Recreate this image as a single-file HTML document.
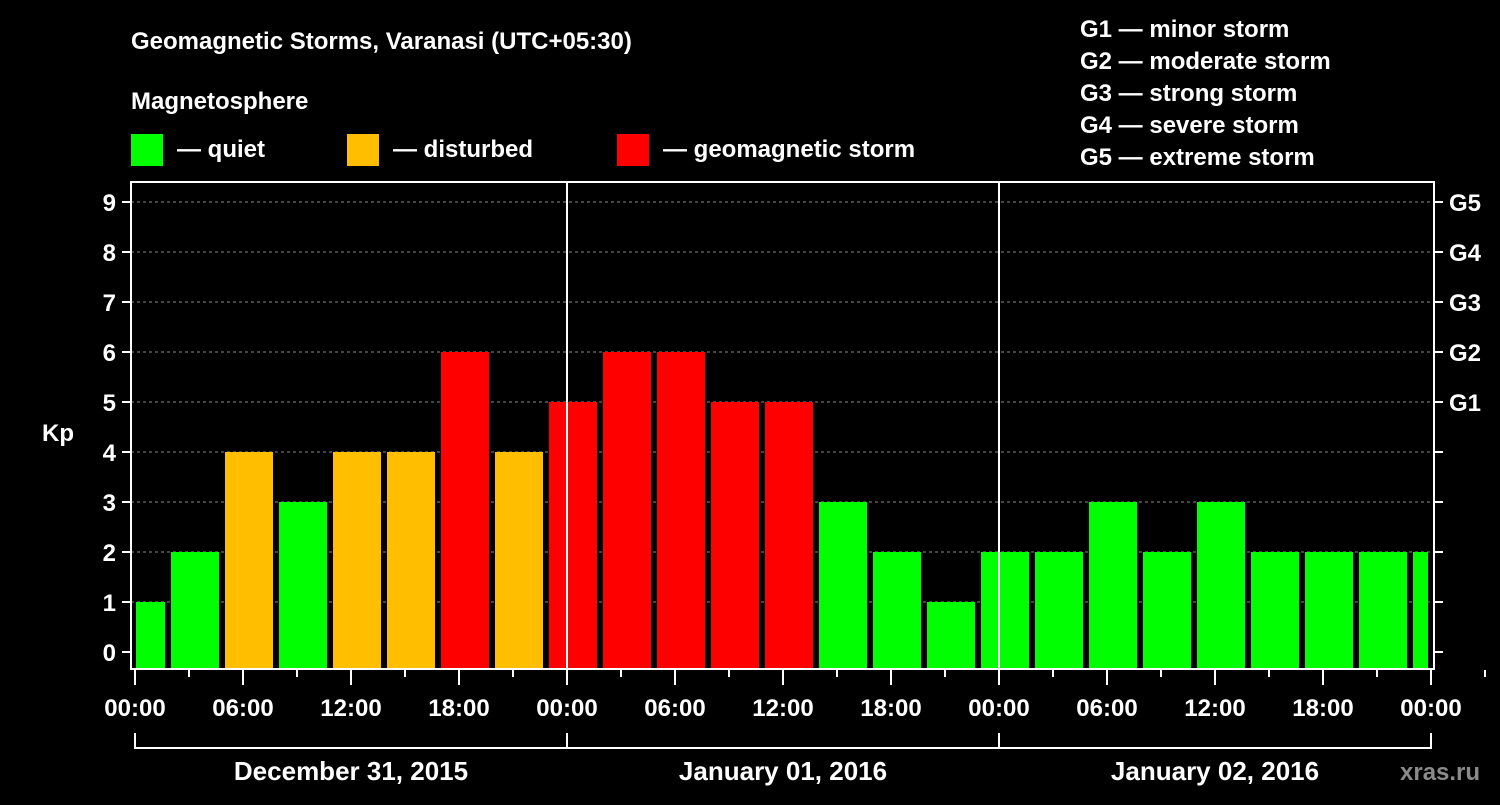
<!DOCTYPE html>
<html><head><meta charset="utf-8"><style>
body{margin:0;background:#000;width:1500px;height:800px;overflow:hidden;font-family:"Liberation Sans",sans-serif}
svg text{font-family:"Liberation Sans",sans-serif;font-weight:bold;fill:#fff}
</style></head><body>
<svg id="c" width="1500" height="800" xmlns="http://www.w3.org/2000/svg">
<text x="131" y="49" font-size="24">Geomagnetic Storms, Varanasi (UTC+05:30)</text>
<text x="131" y="109" font-size="24">Magnetosphere</text>
<rect x="131" y="134" width="32" height="32" fill="#00ff00"/>
<text x="177" y="157" font-size="24">— quiet</text>
<rect x="347" y="134" width="32" height="32" fill="#ffbf00"/>
<text x="393" y="157" font-size="24">— disturbed</text>
<rect x="617" y="134" width="32" height="32" fill="#ff0000"/>
<text x="663" y="157" font-size="24">— geomagnetic storm</text>
<g font-size="24">
<text x="1080" y="37">G1 — minor storm</text>
<text x="1080" y="69">G2 — moderate storm</text>
<text x="1080" y="101">G3 — strong storm</text>
<text x="1080" y="133">G4 — severe storm</text>
<text x="1080" y="165">G5 — extreme storm</text>
</g>
<text x="42" y="441" font-size="24">Kp</text>
<g id="grid"></g><g id="bars"></g><g id="axes"></g>
<text x="1400" y="780" font-size="24" fill="#888" style="fill:#8a8a8a">xras.ru</text>
</svg>
<script>
const kpValues=[1,2,4,3,4,4,6,4,5,6,6,5,5,3,2,1,2,2,3,2,3,2,2,2,2];
const yTicks=[0,1,2,3,4,5,6,7,8,9];
const gLabels=["G1","G2","G3","G4","G5"];
const xLabels=["00:00","06:00","12:00","18:00","00:00","06:00","12:00","18:00","00:00","06:00","12:00","18:00","00:00"];
const dayLabels=["December 31, 2015","January 01, 2016","January 02, 2016"];
const NS="http://www.w3.org/2000/svg";
const X0=135,PXH=18,Y0=652,PXU=50,BOT=668,OFFSET=-1;
const xs=h=>X0+h*PXH, ys=v=>Y0-v*PXU;
function mk(t,a,p){const e=document.createElementNS(NS,t);for(const k in a)e.setAttribute(k,a[k]);p.appendChild(e);return e;}
const grid=document.getElementById('grid'),bars=document.getElementById('bars'),axes=document.getElementById('axes');
yTicks.forEach(v=>{
 if(v>=1){const l=mk('line',{x1:131,x2:1434,y1:ys(v),y2:ys(v),stroke:'#888','stroke-dasharray':'3,3'},grid);
 
 }
 mk('line',{x1:122,x2:131,y1:ys(v),y2:ys(v),stroke:'#fff','stroke-width':2},axes);
 mk('line',{x1:1434,x2:1443,y1:ys(v),y2:ys(v),stroke:'#fff','stroke-width':2},axes);
 const t=mk('text',{x:116,y:ys(v)+9,'font-size':24,'text-anchor':'end'},axes);t.textContent=v;
 
 
});
gLabels.forEach((g,i)=>{const t=mk('text',{x:1449,y:ys(5+i)+9,'font-size':24},axes);t.textContent=g;
 
 });
kpValues.forEach((v,i)=>{
 let s=i==0?0:(OFFSET+3*i), e=OFFSET+3*(i+1);
 let x1=xs(s)+(i==0?1:0), x2=Math.min(xs(e)-6,1428);
 const c=v>=5?'#ff0000':(v==4?'#ffbf00':'#00ff00');
 const r=mk('rect',{x:x1,y:ys(v),width:x2-x1,height:BOT-ys(v),fill:c},bars);
 
 
});
mk('rect',{x:131,y:182,width:1303,height:487,fill:'none',stroke:'#fff','stroke-width':2},axes);
[24,48].forEach(h=>mk('line',{x1:xs(h),x2:xs(h),y1:182,y2:669,stroke:'#fff','stroke-width':2},axes));
xLabels.forEach((lab,i)=>{const x=xs(i*6);
 mk('line',{x1:x,x2:x,y1:670,y2:685,stroke:'#fff','stroke-width':2},axes);
 mk('line',{x1:x+3*PXH,x2:x+3*PXH,y1:670,y2:677,stroke:'#fff','stroke-width':2},axes);
 const t=mk('text',{x:x,y:716,'font-size':24,'text-anchor':'middle'},axes);t.textContent=lab;
 
 });
mk('line',{x1:xs(0),x2:xs(72),y1:748,y2:748,stroke:'#fff','stroke-width':2},axes);
[0,24,48,72].forEach(h=>mk('line',{x1:xs(h),x2:xs(h),y1:733,y2:749,stroke:'#fff','stroke-width':2},axes));
dayLabels.forEach((d,i)=>{const t=mk('text',{x:xs(24*i+12),y:780,'font-size':26,'text-anchor':'middle'},axes);t.textContent=d;
 
 });
</script>
</body></html>
